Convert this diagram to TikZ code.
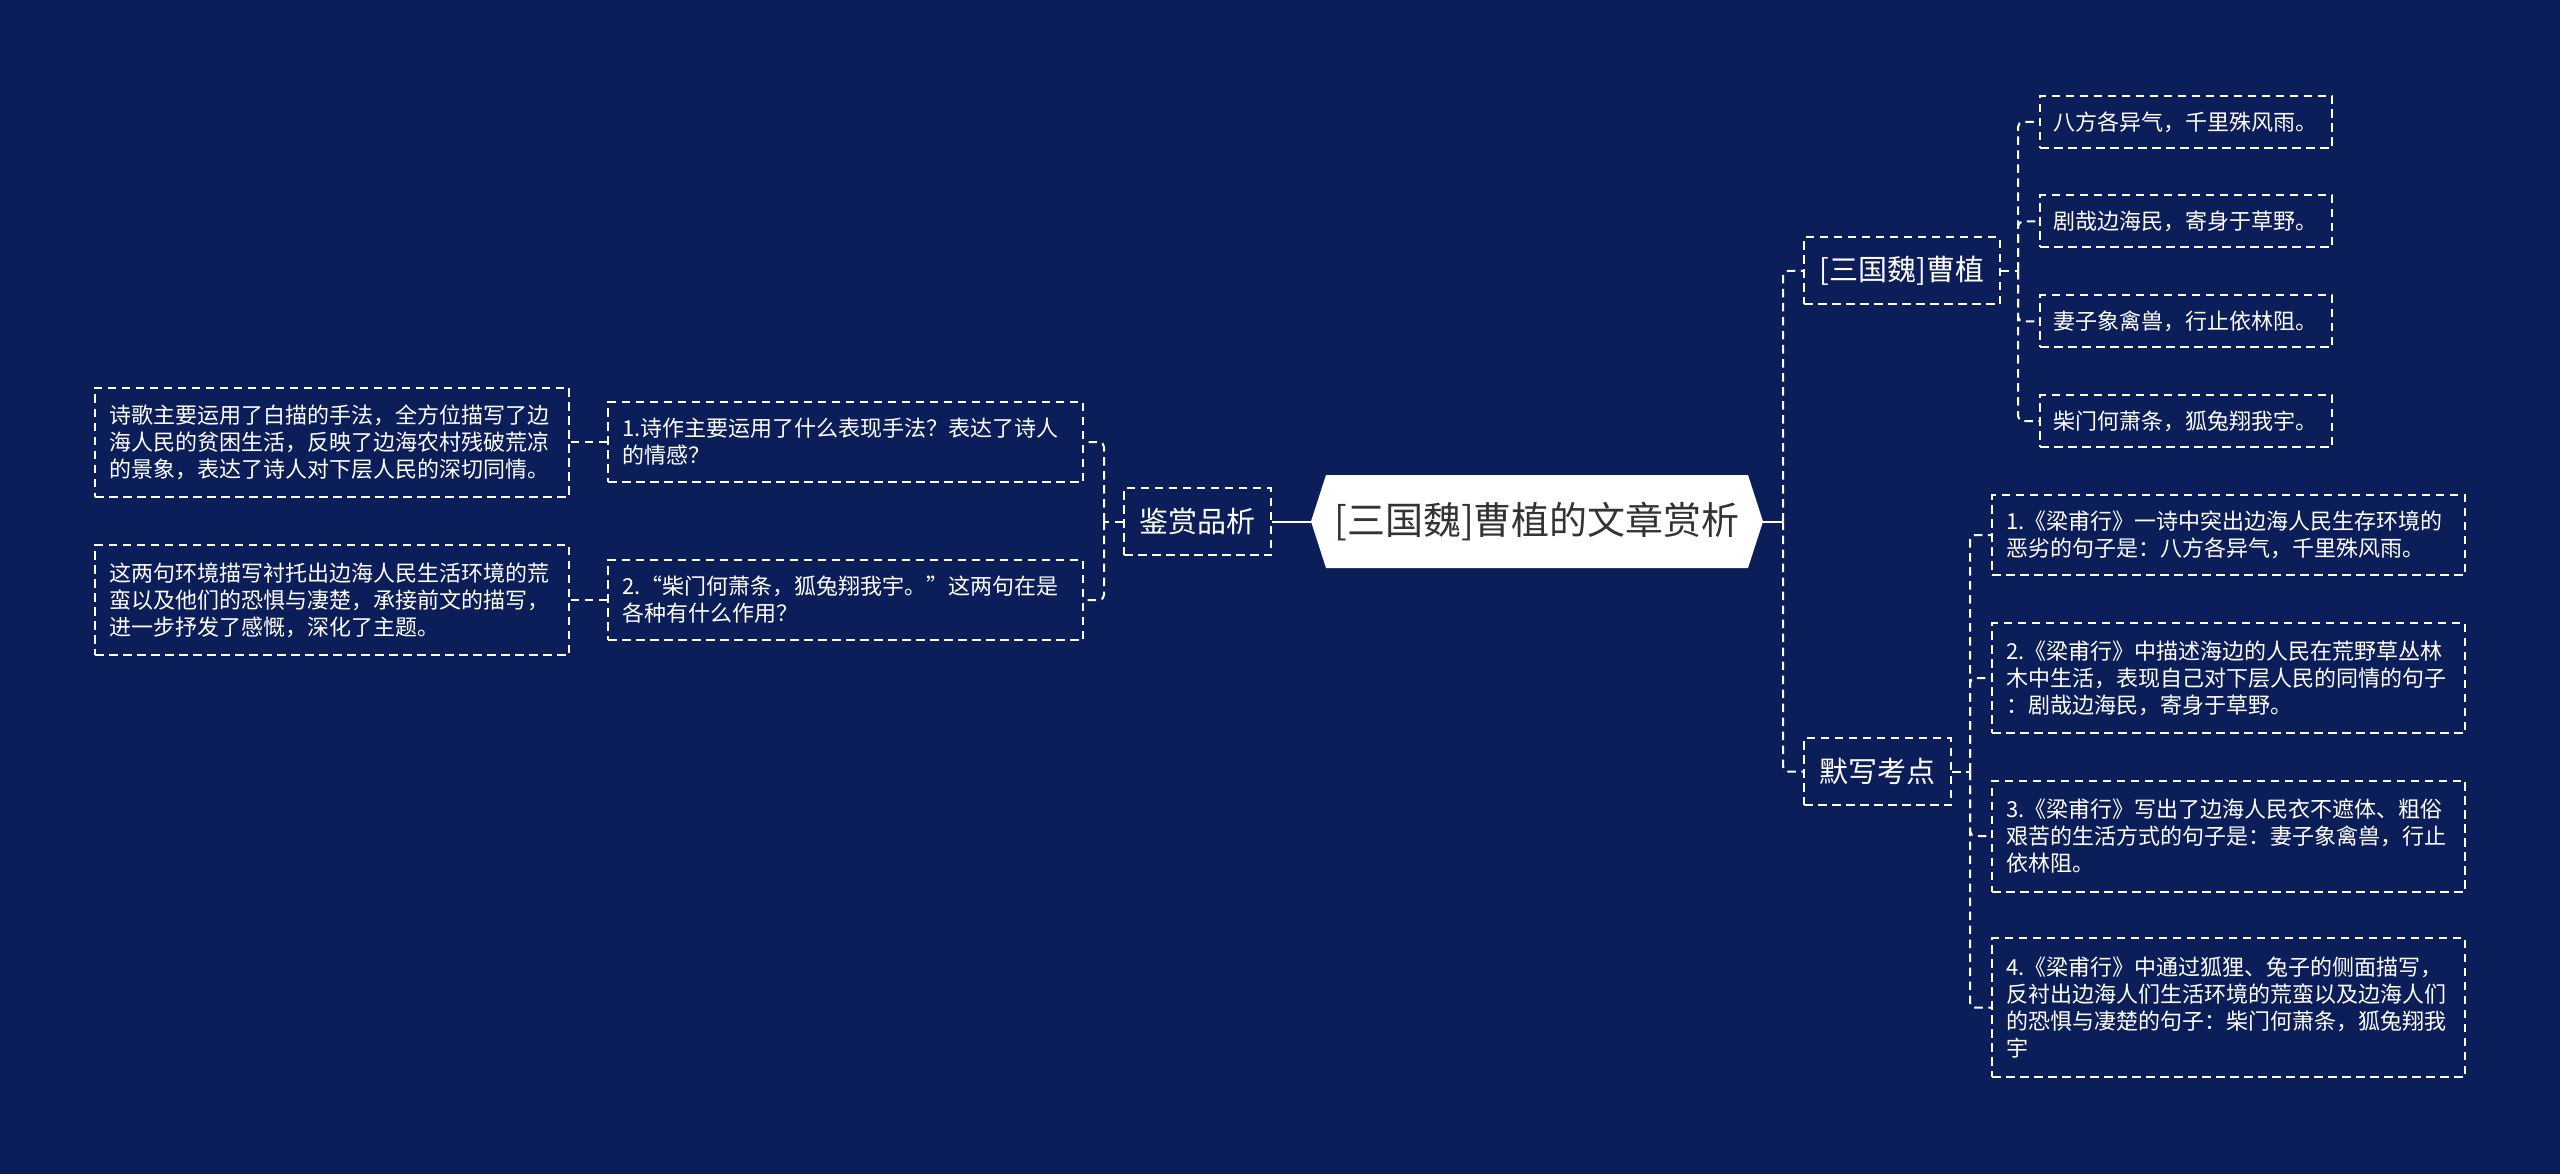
\documentclass[tikz,border=0pt]{standalone}
\usepackage{fontspec}
\newfontfamily\cjk{Noto Sans CJK SC}
\definecolor{bg}{RGB}{12,30,90}
\definecolor{rootText}{RGB}{51,51,51}
\begin{document}
\begin{tikzpicture}[x=1pt,y=-1pt,
 dsh/.style={dash pattern=on 8.5pt off 5.5pt},
 txt/.style={font=\cjk\fontsize{22}{27}\selectfont, text=white},
 box/.style={txt, draw=white, line width=2pt, dsh, align=left, inner xsep=14pt, inner ysep=0pt},
 midbox/.style={font=\cjk\fontsize{29}{35}\selectfont, text=white, draw=white, line width=2pt, dsh, inner xsep=15.5pt, inner ysep=0pt, minimum height=67pt},
 conn/.style={draw=white, line width=2pt, dsh, rounded corners=5pt},
 solidconn/.style={draw=white, line width=2pt},
 rootnode/.style={font=\cjk\fontsize{38}{46}\selectfont, text=rootText, minimum width=452pt, minimum height=93pt, inner sep=0pt}
]
\fill[bg] (0,0) rectangle (2560,1174);
\useasboundingbox (0,0) rectangle (2560,1174);

% root
\fill[white] (1311,521.5) -- (1326,475) -- (1748,475) -- (1763,521.5) -- (1748,568) -- (1326,568) -- cycle;
\node[rootnode] (root) at (1537,521.5) {[三国魏]曹植的文章赏析};

% right side
\coordinate (rj) at (1783,521.5);
\draw[solidconn] (root.east) -- (rj);
\node[midbox, anchor=west] (cz) at (1803,271) {[三国魏]曹植};
\node[midbox, anchor=west] (mx) at (1803,771.5) {默写考点};
\draw[conn] (rj) |- (cz.west);
\draw[conn] (rj) |- (mx.west);

\node[box, anchor=west, text width=266pt, inner xsep=13pt, minimum height=52pt] (l1) at (2039,122) {八方各异气，千里殊风雨。};
\node[box, anchor=west, text width=266pt, inner xsep=13pt, minimum height=52pt] (l2) at (2039,221.5) {剧哉边海民，寄身于草野。};
\node[box, anchor=west, text width=266pt, inner xsep=13pt, minimum height=52pt] (l3) at (2039,321.5) {妻子象禽兽，行止依林阻。};
\node[box, anchor=west, text width=266pt, inner xsep=13pt, minimum height=52pt] (l4) at (2039,421) {柴门何萧条，狐兔翔我宇。};
\coordinate (cj) at (2018,271);
\draw[conn] (cz.east) -- (cj);
\draw[conn] (cj) |- (l1.west);
\draw[conn] (cj) |- (l2.west);
\draw[conn] (cj) |- (l3.west);
\draw[conn] (cj) |- (l4.west);

\node[box, anchor=west, text width=445pt, minimum height=80pt] (m1) at (1991,535) {1.《梁甫行》一诗中突出边海人民生存环境的\\恶劣的句子是：八方各异气，千里殊风雨。};
\node[box, anchor=west, text width=445pt, minimum height=110pt] (m2) at (1991,678) {2.《梁甫行》中描述海边的人民在荒野草丛林\\木中生活，表现自己对下层人民的同情的句子\\：剧哉边海民，寄身于草野。};
\node[box, anchor=west, text width=445pt, minimum height=111pt] (m3) at (1991,836) {3.《梁甫行》写出了边海人民衣不遮体、粗俗\\艰苦的生活方式的句子是：妻子象禽兽，行止\\依林阻。};
\node[box, anchor=west, text width=445pt, minimum height=139pt] (m4) at (1991,1007.5) {4.《梁甫行》中通过狐狸、兔子的侧面描写，\\反衬出边海人们生活环境的荒蛮以及边海人们\\的恐惧与凄楚的句子：柴门何萧条，狐兔翔我\\宇};
\coordinate (mj) at (1970,771.5);
\draw[conn] (mx.east) -- (mj);
\draw[conn] (mj) |- (m1.west);
\draw[conn] (mj) |- (m2.west);
\draw[conn] (mj) |- (m3.west);
\draw[conn] (mj) |- (m4.west);

% left side
\node[midbox, anchor=east] (js) at (1272,521.5) {鉴赏品析};
\draw[solidconn] (root.west) -- (js.east);
\coordinate (lj) at (1104,521.5);
\draw[conn] (js.west) -- (lj);
\node[box, anchor=east, text width=447pt, minimum height=80pt] (q1) at (1084,442) {1.诗作主要运用了什么表现手法？表达了诗人\\的情感？};
\node[box, anchor=east, text width=447pt, minimum height=80pt] (q2) at (1084,600) {2.“柴门何萧条，狐兔翔我宇。”这两句在是\\各种有什么作用？};
\draw[conn] (lj) |- (q1.east);
\draw[conn] (lj) |- (q2.east);
\node[box, anchor=east, text width=446pt, minimum height=109pt] (a1) at (570,442) {诗歌主要运用了白描的手法，全方位描写了边\\海人民的贫困生活，反映了边海农村残破荒凉\\的景象，表达了诗人对下层人民的深切同情。};
\node[box, anchor=east, text width=446pt, minimum height=110pt] (a2) at (570,600) {这两句环境描写衬托出边海人民生活环境的荒\\蛮以及他们的恐惧与凄楚，承接前文的描写，\\进一步抒发了感慨，深化了主题。};
\draw[conn] (q1.west) -- (a1.east);
\draw[conn] (q2.west) -- (a2.east);
\end{tikzpicture}
\end{document}
